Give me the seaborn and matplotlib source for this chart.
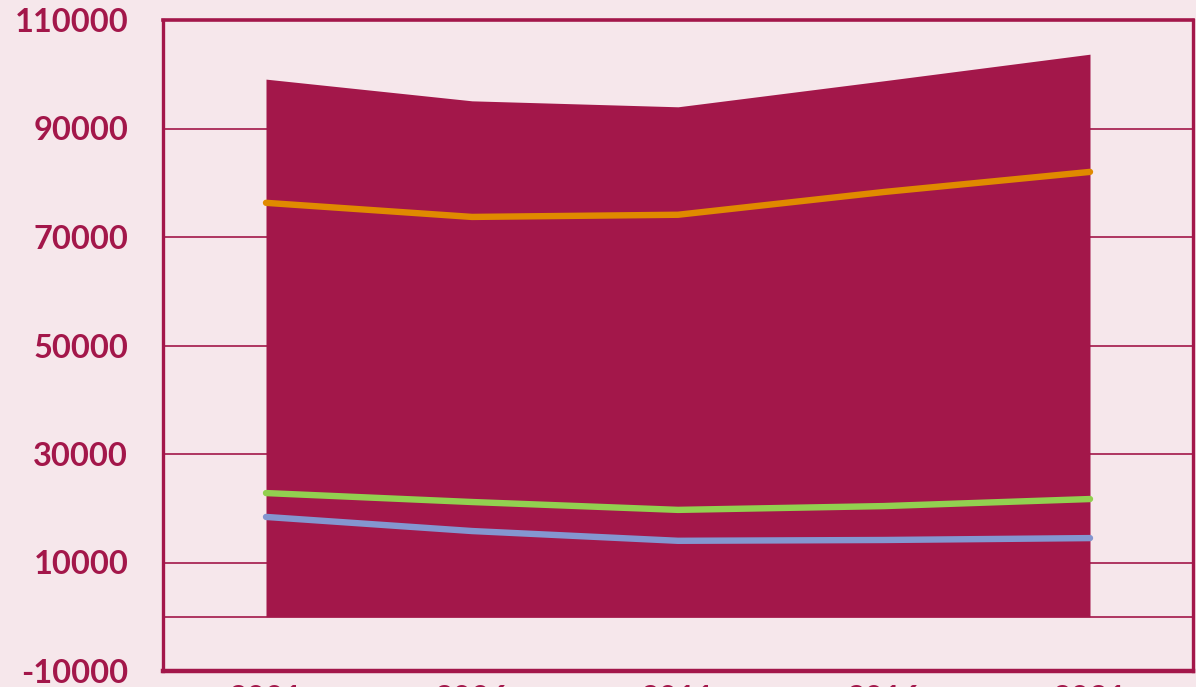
import matplotlib
matplotlib.use("Agg")
import matplotlib.pyplot as plt
import seaborn as sns
import pandas as pd
import numpy as np

years = ["2001", "2006", "2011", "2016", "2021"]
total = [99100, 95100, 94000, 98800, 103700]
orange_vals = [76300, 73700, 74100, 78300, 82000]
green_vals = [22800, 21150, 19700, 20400, 21700]
blue_vals = [18400, 15800, 14000, 14150, 14500]
y_ticks = [-10000, 10000, 30000, 50000, 70000, 90000, 110000]

BG = "#F6E7EB"
MAG = "#A3174A"

sns.set_theme(style="white")
plt.rcParams["font.family"] = ["Lato", "DejaVu Sans"]

fig = plt.figure(figsize=(11.96, 6.87), dpi=100, facecolor=BG)
ax = fig.add_axes([163/1196, 16/687, 1030/1196, 651/687])
ax.set_facecolor(BG)

x = np.arange(len(years))
ax.fill_between(x, 0, total, color=MAG, linewidth=0, zorder=2)

df = pd.DataFrame({"x": np.tile(x, 3),
                   "v": orange_vals + green_vals + blue_vals,
                   "s": ["o"] * 5 + ["g"] * 5 + ["b"] * 5})
sns.lineplot(data=df, x="x", y="v", hue="s",
             palette={"o": "#E08A00", "g": "#92D050", "b": "#8496D0"},
             linewidth=4.6, legend=False, ax=ax, zorder=3,
             solid_capstyle="round")

ax.set_xlim(-0.5, 4.5)
ax.set_ylim(-10000, 110000)
ax.set_yticks(y_ticks)
ax.set_yticklabels([str(t) for t in y_ticks])
for t in y_ticks[1:-1]:
    ax.axhline(t, color=MAG, linewidth=1.2, zorder=1)
ax.axhline(0, color=MAG, linewidth=1.2, zorder=1)

ax.set_xticks(x)
ax.set_xticklabels(years)
ax.set_xticks(np.arange(-0.5, 5.0, 1.0), minor=True)
ax.tick_params(axis="x", which="major", length=0, pad=10, labelsize=23,
               labelcolor=MAG)
ax.tick_params(axis="x", which="minor", length=20, width=2.2, color=MAG,
               direction="out")
ax.tick_params(axis="y", length=7, width=1.2, color=MAG, pad=18,
               labelsize=23.5, labelcolor=MAG)
for lab in ax.get_xticklabels() + ax.get_yticklabels():
    lab.set_fontweight("bold")

for side, w in [("left", 2.4), ("right", 2.4), ("top", 2.6), ("bottom", 3.2)]:
    ax.spines[side].set_color(MAG)
    ax.spines[side].set_linewidth(w)
    ax.spines[side].set_visible(True)

ax.set_xlabel("")
ax.set_ylabel("")
fig.savefig("out.png", dpi=100, facecolor=BG)
